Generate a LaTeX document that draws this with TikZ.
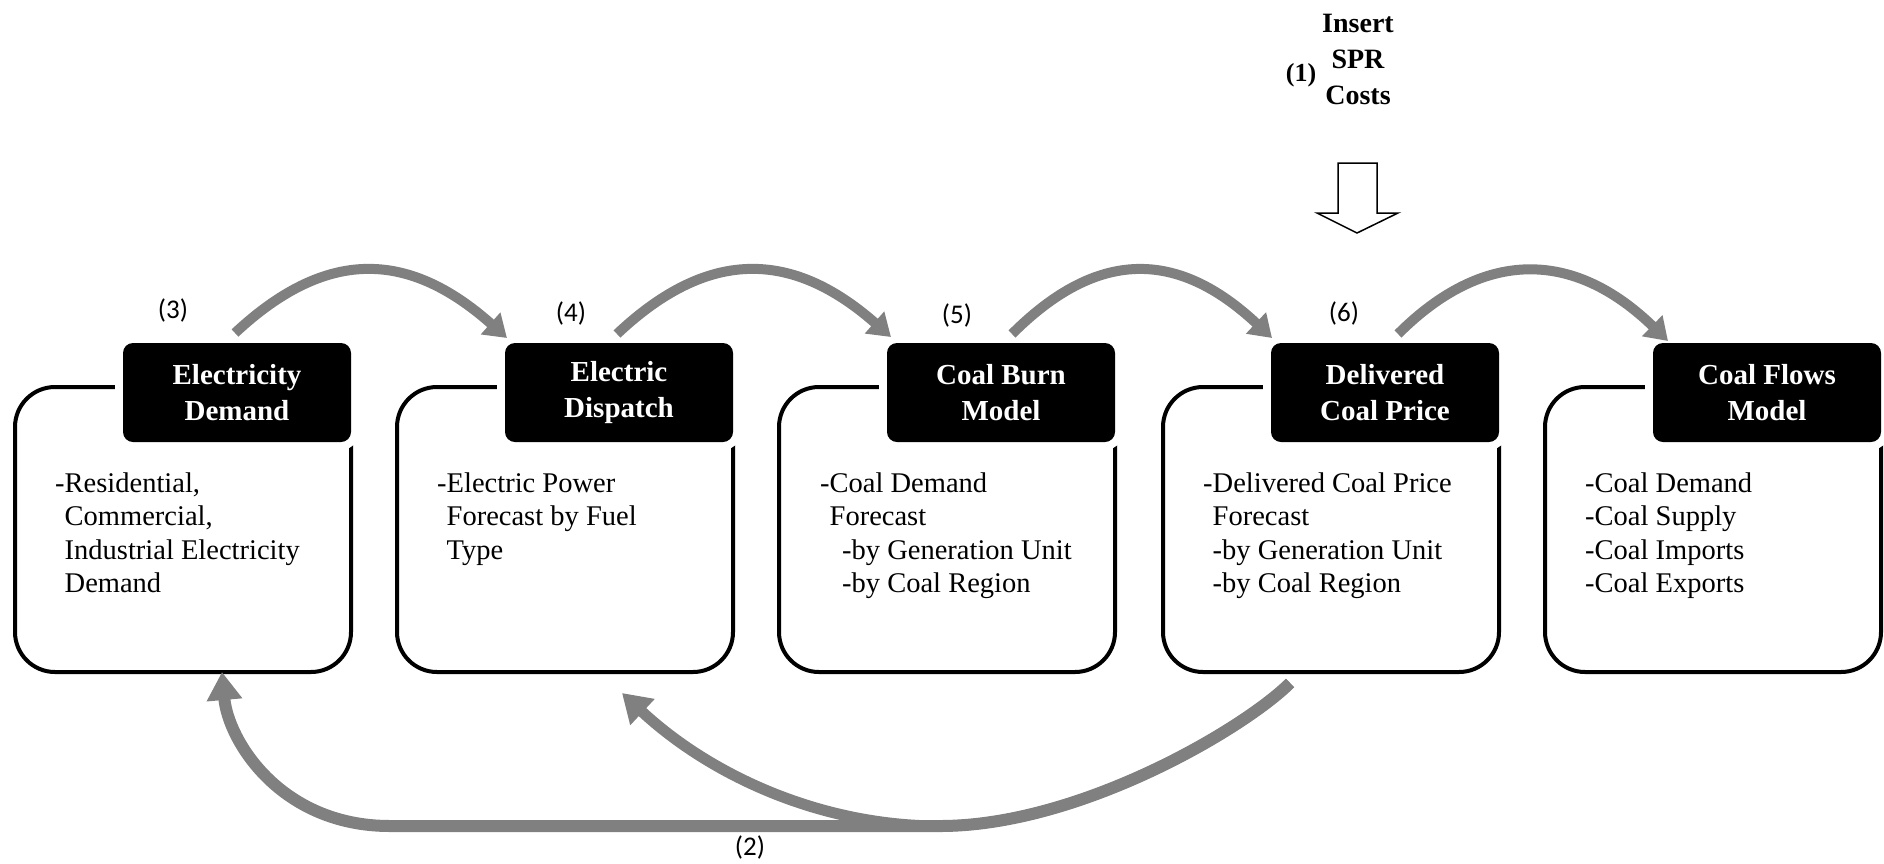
\documentclass[tikz,border=0pt]{standalone}
\usepackage{fontspec}
\setmainfont{Liberation Serif}
\newfontfamily\lblfont{Carlito}
\usetikzlibrary{arrows.meta}
\definecolor{arrgray}{RGB}{128,128,128}
\begin{document}
\begin{tikzpicture}[x=1pt,y=-1pt,
 outerbox/.style={draw=black,line width=4pt,rounded corners=40pt,minimum width=336pt,minimum height=285pt,inner sep=0pt,fill=white},
 header/.style={fill=black,text=white,rounded corners=10pt,minimum width=228pt,minimum height=99pt,inner sep=0pt,align=center,font=\fontsize{29}{36}\selectfont\bfseries,preaction={draw=white,line width=16pt}},
 body/.style={anchor=base west,inner sep=0pt,align=left,font=\fontsize{28.5}{33.5}\selectfont},
 numlbl/.style={font=\lblfont\fontsize{27}{30}\selectfont,inner sep=0pt},
 toparc/.style={draw=arrgray,line width=10pt,-{Triangle[width=28pt,length=22pt]}},
 botarcA/.style={draw=arrgray,line width=11pt,-{Triangle[width=34pt,length=28pt]}},
 botarcB/.style={draw=arrgray,line width=12pt,-{Triangle[width=34pt,length=28pt]}},
 insarrow/.style={draw=black,line width=1.5pt,fill=white,line join=miter}
]
\useasboundingbox (0,0) rectangle (1884,863);

% outer boxes
\node[outerbox] (box1) at (183,529.5) {};
\node[outerbox] (box2) at (565,529.5) {};
\node[outerbox] (box3) at (947,529.5) {};
\node[outerbox] (box4) at (1331,529.5) {};
\node[outerbox] (box5) at (1713,529.5) {};

% headers
\node[header] (hd1) at (237,392.5) {Electricity\\Demand};
\node[header] (hd2) at (619,392.5) {Electric\\Dispatch};
\node[header] (hd3) at (1001,392.5) {Coal Burn\\Model};
\node[header] (hd4) at (1385,392.5) {Delivered\\Coal Price};
\node[header] (hd5) at (1767,392.5) {Coal Flows\\Model};

% body texts (anchor = baseline of the last line)
\node[body] (tx1) at (55,592.5) {-Residential,\\\phantom{-}Commercial,\\\phantom{-}Industrial Electricity\\\phantom{-}Demand};
\node[body] (tx2) at (437,559) {-Electric Power\\\phantom{-}Forecast by Fuel\\\phantom{-}Type};
\node[body] (tx3) at (820,592.5) {-Coal Demand\\\phantom{-}Forecast\\\hspace*{22pt}-by Generation Unit\\\hspace*{22pt}-by Coal Region};
\node[body] (tx4) at (1203,592.5) {-Delivered Coal Price\\\phantom{-}Forecast\\\phantom{-}-by Generation Unit\\\phantom{-}-by Coal Region};
\node[body] (tx5) at (1585,592.5) {-Coal Demand\\-Coal Supply\\-Coal Imports\\-Coal Exports};

% step numbers
\node[numlbl] (n3) at (173,310) {(3)};
\node[numlbl] (n4) at (571,313) {(4)};
\node[numlbl] (n5) at (957,315) {(5)};
\node[numlbl] (n6) at (1344,313) {(6)};
\node[numlbl] (n2) at (750,847) {(2)};

% insert SPR costs
\node[inner sep=0pt,align=center,anchor=base,font=\fontsize{28}{36}\selectfont\bfseries] (ins) at (1358,104) {Insert\\SPR\\Costs};
\node[inner sep=0pt,anchor=base,font=\fontsize{26}{30}\selectfont\bfseries] (n1) at (1301,81) {(1)};
\draw[insarrow] (1338,163) -- (1377,163) -- (1377,213) -- (1398,213) -- (1357,233) -- (1317,213) -- (1338,213) -- cycle;

% top arcs
\coordinate (s1) at (235,333); \coordinate (e1) at (507,338);
\coordinate (s2) at (617,334); \coordinate (e2) at (891,337);
\coordinate (s3) at (1012,334); \coordinate (e3) at (1272,338);
\coordinate (s4) at (1398,334); \coordinate (e4) at (1668,341);
\draw[toparc] (s1) .. controls (325,249) and (407,249) .. (e1);
\draw[toparc] (s2) .. controls (707,249) and (791,249) .. (e2);
\draw[toparc] (s3) .. controls (1097,249) and (1177,249) .. (e3);
\draw[toparc] (s4) .. controls (1483,249) and (1573,249) .. (e4);

% bottom feedback arcs
\coordinate (bs) at (1290,683);
\coordinate (bt1) at (222,672);
\coordinate (bt2) at (622,693);
\draw[botarcB] (bs) .. controls (1245,728) and (1080,826) .. (940,826) -- (390,826) .. controls (280,826) and (228,740) .. (bt1);
\draw[botarcA] (bs) .. controls (1245,728) and (1080,826) .. (940,826) .. controls (820,826) and (710,775) .. (bt2);
\end{tikzpicture}
\end{document}
